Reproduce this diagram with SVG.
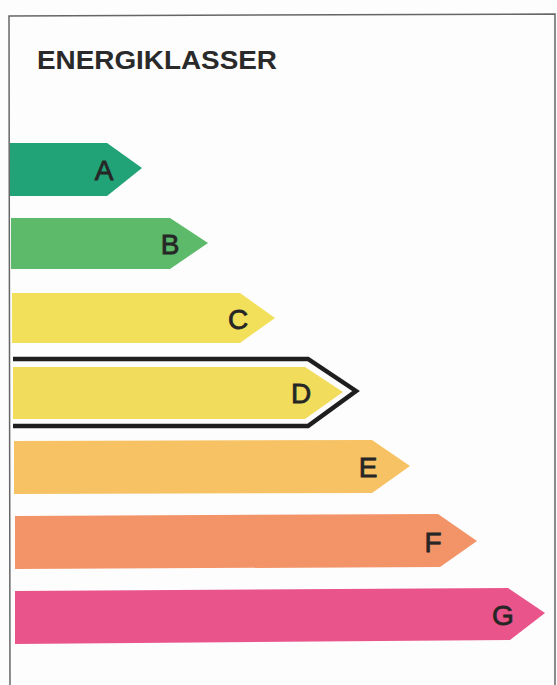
<svg xmlns="http://www.w3.org/2000/svg" width="557" height="685" viewBox="0 0 557 685">
<style>
.lbl{font-family:"Liberation Sans",Arial,sans-serif;font-size:28px;fill:#262626;stroke:#262626;stroke-width:0.8;text-anchor:middle}
.title{font-family:"Liberation Sans",Arial,sans-serif;font-size:26px;font-weight:bold;fill:#2a2a2a}
.frame{fill:none;stroke:#666;stroke-width:1.5}
</style>
<rect width="557" height="685" fill="#fdfdfd"/>
<g id="frame">
<polyline class="frame" points="10,685 9,16 555,14 555,685"/>
</g>
<g id="title">
<text class="title" x="37" y="69" textLength="240" lengthAdjust="spacingAndGlyphs">ENERGIKLASSER</text>
</g>
<g id="class-A">
<polygon points="10,143 107,143 142,168 107,196 10,196" fill="#22a277"/>
<text class="lbl" x="104" y="180">A</text>
</g>
<g id="class-B">
<polygon points="11,218 170,218 208,243 170,269 11,269" fill="#5cba6a"/>
<text class="lbl" x="170" y="254">B</text>
</g>
<g id="class-C">
<polygon points="12,293 240,293 275,318 240,343 12,343" fill="#f2df5a"/>
<text class="lbl" x="238" y="329">C</text>
</g>
<g id="class-D">
<polyline points="13,359 308,359 356,391 308,426 13,426" fill="none" stroke="#1e1e1e" stroke-width="4.5"/>
<polygon points="13,367 305,367 343,392 305,419 13,419" fill="#f2dc5c"/>
<text class="lbl" x="301" y="403">D</text>
</g>
<g id="class-E">
<polygon points="14,441 372,440 410,466 372,493 14,494" fill="#f6c263"/>
<text class="lbl" x="368" y="477">E</text>
</g>
<g id="class-F">
<polygon points="15,516 438,514 477,541 440,567 15,569" fill="#f29468"/>
<text class="lbl" x="433" y="552">F</text>
</g>
<g id="class-G">
<polygon points="15,591 508,588 545,613 510,640 15,644" fill="#e9548b"/>
<text class="lbl" x="503" y="625">G</text>
</g>
</svg>
